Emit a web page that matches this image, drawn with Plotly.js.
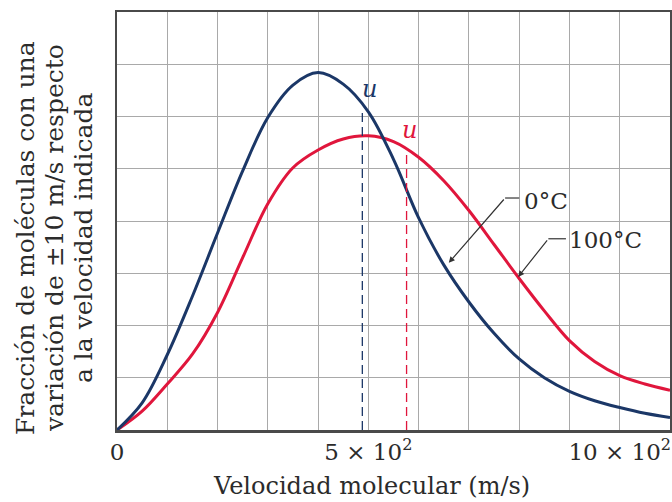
<!DOCTYPE html>
<html>
<head>
<meta charset="utf-8">
<script src="https://cdn.plot.ly/plotly-3.0.1.min.js"></script>
<style>
  html, body { margin: 0; padding: 0; background: #ffffff; }
  #chart { width: 672px; height: 502px; }
</style>
</head>
<body>
<div id="chart"></div>
<script>
// Speeds (m/s) and relative fraction (grid units)
const speeds = [0, 50, 100, 150, 200, 250, 300, 350, 400, 450, 500, 550, 600, 650, 700, 750, 800, 850, 900, 950, 1000, 1050, 1100];
const values0C = [0, 0.52, 1.44, 2.56, 3.77, 4.96, 5.98, 6.60, 6.84, 6.62, 6.09, 5.18, 4.06, 3.16, 2.45, 1.85, 1.36, 1.00, 0.74, 0.56, 0.43, 0.32, 0.24];
const values100C = [0, 0.36, 0.88, 1.45, 2.25, 3.30, 4.33, 5.02, 5.36, 5.57, 5.63, 5.52, 5.22, 4.77, 4.20, 3.55, 2.90, 2.28, 1.71, 1.31, 1.04, 0.88, 0.76];

// rms speed markers (u): speed and height where the dashed line meets the curve
const uSpeeds = [488, 576];
const uTops = [6.12, 5.3];

// x tick positions and labels
const tickVals = [0, 100, 200, 300, 400, 500, 600, 700, 800, 900, 1000, 1100];
const tickText = ['0', '', '', '', '', '5 × 10<sup>2</sup>', '', '', '', '', '10 × 10<sup>2</sup>', ''];

// curve labels
const curveLabels = ['0°C', '100°C'];
const labelPos = [[806, 4.39], [896, 3.63]];     // text left edge, middle
const leaderKnee = [[772, 4.44], [858, 3.66]];   // bend of the leader line
const leaderStart = [[800, 4.44], [893, 3.66]];  // end near the text
const leaderTip = [[660, 3.2], [798, 2.93]];     // arrow point on the curve

const BLUE = '#1b3767';
const RED = '#e0163c';
const FONT = 'DejaVu Serif, Liberation Serif, serif';
const TXT = '#2b2b2b';

const traces = [
  { x: speeds, y: values100C, mode: 'lines', line: { color: RED, width: 3, shape: 'spline', smoothing: 1 }, hoverinfo: 'skip', name: '100°C' },
  { x: speeds, y: values0C, mode: 'lines', line: { color: BLUE, width: 3, shape: 'spline', smoothing: 1 }, hoverinfo: 'skip', name: '0°C' },
  { x: [uSpeeds[0], uSpeeds[0]], y: [0, uTops[0]], mode: 'lines', line: { color: BLUE, width: 1.3, dash: '9px,5px' }, hoverinfo: 'skip' },
  { x: [uSpeeds[1], uSpeeds[1]], y: [0, uTops[1]], mode: 'lines', line: { color: RED, width: 1.3, dash: '9px,5px' }, hoverinfo: 'skip' }
];

const annotations = [];
// u labels
annotations.push({ x: uSpeeds[0] + 15, y: uTops[0] + 0.4, xref: 'x', yref: 'y', text: '<i>u</i>', showarrow: false, font: { family: FONT, size: 24, color: BLUE }, xanchor: 'center', yanchor: 'middle' });
annotations.push({ x: uSpeeds[1] + 5, y: uTops[1] + 0.45, xref: 'x', yref: 'y', text: '<i>u</i>', showarrow: false, font: { family: FONT, size: 24, color: RED }, xanchor: 'center', yanchor: 'middle' });

const shapes = [];
for (let i = 0; i < curveLabels.length; i++) {
  annotations.push({ x: labelPos[i][0], y: labelPos[i][1], xref: 'x', yref: 'y', text: curveLabels[i], showarrow: false, font: { family: FONT, size: 23, color: TXT }, xanchor: 'left', yanchor: 'middle' });
  annotations.push({ x: leaderTip[i][0], y: leaderTip[i][1], ax: leaderKnee[i][0], ay: leaderKnee[i][1], xref: 'x', yref: 'y', axref: 'x', ayref: 'y', text: '', showarrow: true, arrowhead: 2, arrowsize: 1, arrowwidth: 1.2, arrowcolor: '#333333', standoff: 0, startstandoff: 0 });
  shapes.push({ type: 'line', xref: 'x', yref: 'y', x0: leaderKnee[i][0], y0: leaderKnee[i][1], x1: leaderStart[i][0], y1: leaderStart[i][1], line: { color: '#333333', width: 1.2 } });
}

// y-axis title (three lines)
const yTitleLines = ['Fracción de moléculas con una', 'variación de ±10 m/s respecto', 'a la velocidad indicada'];
const yTitleX = [25, 54, 83];
yTitleLines.forEach((t, i) => {
  annotations.push({ x: (yTitleX[i] - 117) / 553, y: (430 - 238) / 418, xref: 'paper', yref: 'paper', text: t, textangle: -90, showarrow: false, font: { family: FONT, size: 25, color: TXT }, xanchor: 'center', yanchor: 'middle' });
});
// x-axis title
annotations.push({ x: (371 - 117) / 553, y: (430 - 486) / 418, xref: 'paper', yref: 'paper', text: 'Velocidad molecular (m/s)', showarrow: false, font: { family: FONT, size: 24, color: TXT }, xanchor: 'center', yanchor: 'middle' });

const layout = {
  width: 672, height: 502,
  margin: { l: 117, r: 2, t: 12, b: 72, pad: 0 },
  paper_bgcolor: '#ffffff', plot_bgcolor: '#ffffff',
  showlegend: false,
  xaxis: {
    range: [0, 1100], tickvals: tickVals, ticktext: tickText, ticks: '',
    ticklabeloverflow: 'allow',
    showgrid: true, gridcolor: '#a9a9a9', gridwidth: 1,
    showline: true, mirror: true, linecolor: '#4a4a4a', linewidth: 2.5,
    zeroline: false, tickfont: { family: FONT, size: 23, color: TXT }, fixedrange: true
  },
  yaxis: {
    range: [0, 8], dtick: 1, tick0: 0, showticklabels: false, ticks: '',
    showgrid: true, gridcolor: '#a9a9a9', gridwidth: 1,
    showline: true, mirror: true, linecolor: '#4a4a4a', linewidth: 2.5,
    zeroline: false, fixedrange: true
  },
  annotations: annotations,
  shapes: shapes
};

Plotly.newPlot('chart', traces, layout, { displayModeBar: false, staticPlot: true });
</script>
</body>
</html>
